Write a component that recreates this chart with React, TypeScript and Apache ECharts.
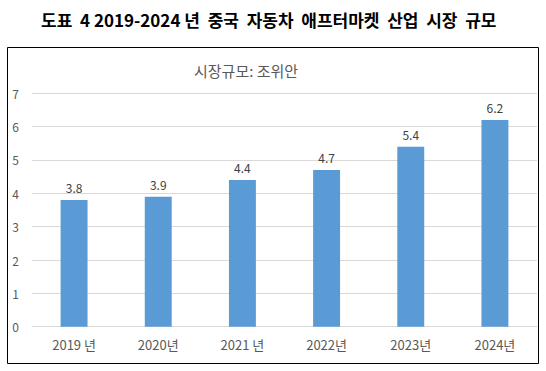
import React, { useEffect, useRef } from "react";
import * as echarts from "echarts";

const categories = ["2019 년", "2020년", "2021 년", "2022년", "2023년", "2024년"];
const values = [3.8, 3.9, 4.4, 4.7, 5.4, 6.2];
const yTicks = [0, 1, 2, 3, 4, 5, 6, 7];
const titleText = "도표  4 2019-2024 년  중국  자동차  애프터마켓  산업  시장  규모";
const subtitleText = "시장규모: 조위안";

const FONT = "'Noto Sans CJK KR', 'Noto Sans', sans-serif";

export default function App() {
  const ref = useRef<HTMLDivElement>(null);
  useEffect(() => {
    if (!ref.current) return;
    const chart = echarts.init(ref.current, null, { renderer: "svg" });
    chart.setOption({
      animation: false,
      backgroundColor: "#ffffff",
      textStyle: { fontFamily: FONT },
      title: [
        {
          text: titleText,
          left: 36,
          top: 6,
          textStyle: { fontSize: 17, fontWeight: "bold", color: "#000000", fontFamily: FONT },
        },
        {
          text: subtitleText,
          left: 189,
          top: 58,
          textStyle: { fontSize: 15, fontWeight: "normal", color: "#595959", fontFamily: FONT },
        },
      ],
      graphic: [
        {
          type: "rect",
          shape: { x: 7.5, y: 47.5, width: 531, height: 316 },
          style: { fill: "none", stroke: "#000000", lineWidth: 1 },
          silent: true,
          z: 100,
        },
      ],
      grid: { left: 32, right: 9, top: 93.3, bottom: 44.3, containLabel: false },
      xAxis: {
        type: "category",
        data: categories,
        axisLine: { show: true, lineStyle: { color: "#d9d9d9" } },
        axisTick: { show: false },
        axisLabel: { color: "#595959", fontSize: 13, margin: 11, fontFamily: FONT },
      },
      yAxis: {
        type: "value",
        min: yTicks[0],
        max: yTicks[yTicks.length - 1],
        interval: 1,
        axisLine: { show: false },
        axisTick: { show: false },
        splitLine: { lineStyle: { color: "#d9d9d9" } },
        axisLabel: { color: "#595959", fontSize: 12, margin: 13, fontFamily: FONT },
      },
      series: [
        {
          type: "bar",
          data: values,
          barWidth: "32%",
          itemStyle: { color: "#5B9BD5" },
          label: {
            show: true,
            position: "top",
            distance: 6,
            color: "#404040",
            fontSize: 12,
            fontFamily: FONT,
          },
        },
      ],
    });
    return () => chart.dispose();
  }, []);
  return <div ref={ref} style={{ width: 546, height: 371, position: "absolute", left: 0, top: 0 }} />;
}
